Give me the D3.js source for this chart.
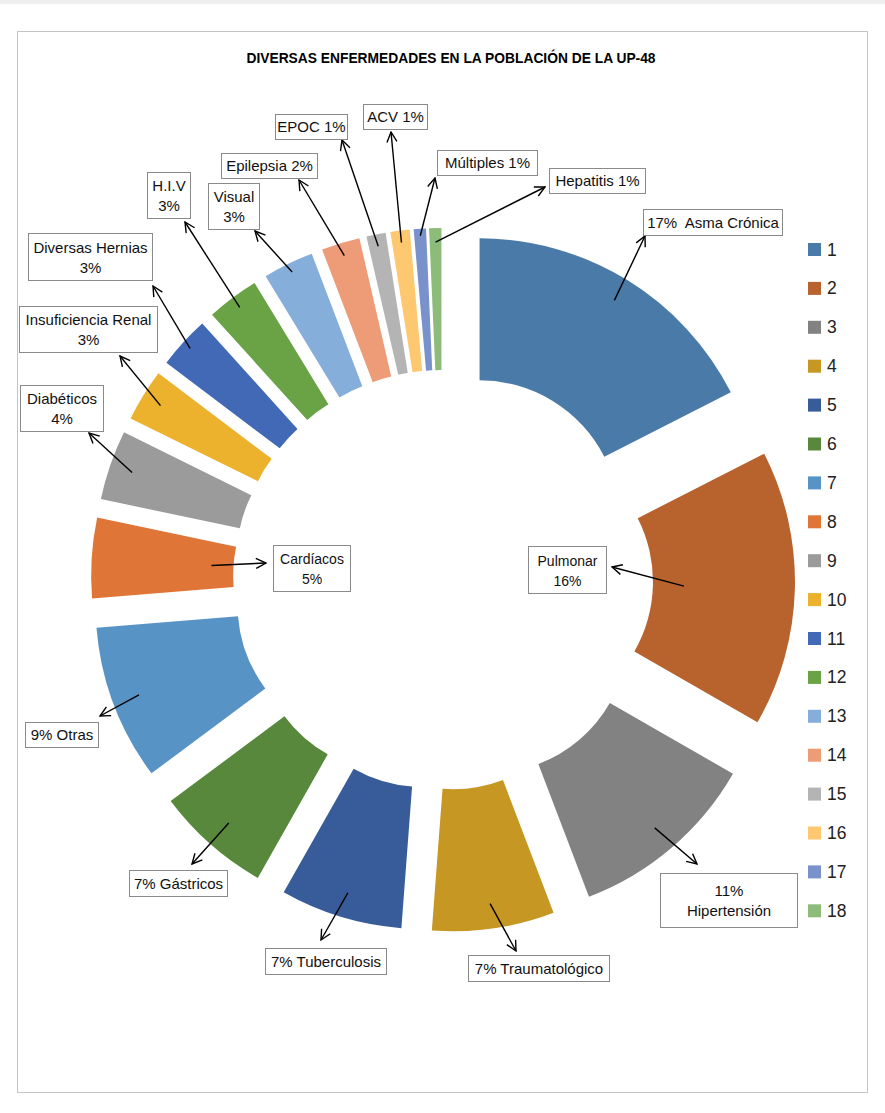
<!DOCTYPE html>
<html>
<head>
  <meta charset="utf-8">
  <style>
  body {
    margin: 0;
    background: #fff;
    font-family: "Liberation Sans", Arial, sans-serif;
  }
  .frame {
    fill: #fff;
    stroke: #c4c4c4;
  }
  .title {
    font-weight: bold;
    font-size: 13.8px;
    text-anchor: middle;
  }
  .lbl rect {
    fill: #fff;
    stroke: #8a8a8a;
  }
  .lbl text {
    font-size: 15px;
    text-anchor: middle;
    fill: #111;
    white-space: pre;
  }
  .lbl line {
    stroke: #000;
    stroke-width: 1.4px;
  }
  .legend text {
    font-size: 17.5px;
    fill: #222;
  }
  </style>
</head>
<body>
  <div id="chart"></div>
  <script src="https://d3js.org/d3.v7.min.js"></script>
  <script>
  // data
  var categories = ["1", "2", "3", "4", "5", "6", "7", "8", "9", "10", "11", "12", "13", "14", "15", "16", "17", "18"];
  var shares = [17.5, 15.8, 10.9, 7.0, 7.0, 6.6, 8.9, 4.6, 4.0, 3.0, 3.0, 3.0, 2.9, 2.2, 1.1, 1.1, 0.7, 0.7];
  var labelLines = [
    ["17%  Asma Crónica"], ["Pulmonar", "16%"], ["11%", "Hipertensión"], ["7% Traumatológico"],
    ["7% Tuberculosis"], ["7% Gástricos"], ["9% Otras"], ["Cardíacos", "5%"], ["Diabéticos", "4%"],
    ["Insuficiencia Renal", "3%"], ["Diversas Hernias", "3%"], ["H.I.V", "3%"], ["Visual", "3%"],
    ["Epilepsia 2%"], ["EPOC 1%"], ["ACV 1%"], ["Múltiples 1%"], ["Hepatitis 1%"]
  ];
  var colors = ["#4a7ba8", "#b8622e", "#828282", "#c79724", "#385c99", "#57883b", "#5893c6", "#df7638", "#9b9b9b",
                "#edb22d", "#4169b5", "#6aa246", "#86aeda", "#ee9b77", "#b4b4b4", "#fec871", "#7992cb", "#8dbb79"];

  // label boxes / arrow tips (layout) : x, y, w, h, tip x, tip y, arrow start radius
  var labelBoxes = [
    [643, 209, 139, 26, 645, 236, 258], [528, 546, 78, 47, 612, 567, 171], [660, 873, 137, 54, 697, 864, 256],
    [468, 955, 141, 26, 516, 951, 257], [265, 948, 121, 26, 321, 940, 257], [129, 870, 98, 26, 192, 864, 254],
    [25, 722, 73, 25, 100, 716, 255], [273, 545, 77, 46, 266, 563, 162], [20, 385, 83, 46, 89, 433, 259],
    [19, 306, 138, 46, 120, 356, 262], [28, 233, 124, 47, 153, 286, 273], [147, 172, 43, 46, 185, 222, 270],
    [208, 183, 51, 46, 255, 231, 273], [221, 153, 96, 25, 299, 180, 269], [275, 114, 72, 25, 342, 140, 270],
    [363, 104, 64, 25, 391, 132, 270], [437, 150, 100, 25, 435, 178, 275], [549, 168, 96, 25, 545, 187, 268]
  ];

  var W = 885, H = 1113;
  var cx = 443, cy = 580, rIn = 140, rOut = 282, explode = 70;

  var svg = d3.select("#chart").append("svg")
      .attr("width", W)
      .attr("height", H);

  svg.append("rect").attr("width", W).attr("height", 4).style("fill", "#f0f0f0");
  svg.append("rect").attr("class", "frame")
      .attr("x", 17.5).attr("y", 31.5).attr("width", 850).attr("height", 1061);

  svg.append("text").attr("class", "title")
      .attr("x", 451).attr("y", 63)
      .text("DIVERSAS ENFERMEDADES EN LA POBLACIÓN DE LA UP-48");

  var defs = svg.append("defs");
  defs.append("marker")
      .attr("id", "head")
      .attr("viewBox", "0 0 12 12")
      .attr("refX", 11).attr("refY", 6)
      .attr("markerWidth", 12).attr("markerHeight", 12)
      .attr("markerUnits", "userSpaceOnUse")
      .attr("orient", "auto")
    .append("path")
      .attr("d", "M1,1 L11,6 L1,11")
      .style("fill", "none")
      .style("stroke", "#000")
      .style("stroke-width", 1.4);

  var pie = d3.pie().sort(null).value(function(d){ return d; });
  var arcs = pie(shares);
  var arc = d3.arc().innerRadius(rIn).outerRadius(rOut);

  function mid(d){ return (d.startAngle + d.endAngle) / 2; }
  function offset(d){
    var m = mid(d);
    return [cx + explode * Math.sin(m), cy - explode * Math.cos(m)];
  }

  svg.append("g").selectAll("path")
      .data(arcs)
    .enter().append("path")
      .attr("transform", function(d){ var o = offset(d); return "translate(" + o[0] + "," + o[1] + ")"; })
      .attr("d", arc)
      .style("fill", function(d, i){ return colors[i]; });

  // labels with arrows
  var lbl = svg.append("g").selectAll("g")
      .data(arcs)
    .enter().append("g")
      .attr("class", "lbl");

  lbl.append("line")
      .attr("x1", function(d, i){ return offset(d)[0] + labelBoxes[i][6] * Math.sin(mid(d)); })
      .attr("y1", function(d, i){ return offset(d)[1] - labelBoxes[i][6] * Math.cos(mid(d)); })
      .attr("x2", function(d, i){ return labelBoxes[i][4]; })
      .attr("y2", function(d, i){ return labelBoxes[i][5]; })
      .attr("marker-end", "url(#head)");

  lbl.append("rect")
      .attr("x", function(d, i){ return labelBoxes[i][0] + 0.5; })
      .attr("y", function(d, i){ return labelBoxes[i][1] + 0.5; })
      .attr("width", function(d, i){ return labelBoxes[i][2]; })
      .attr("height", function(d, i){ return labelBoxes[i][3]; });

  lbl.each(function(d, i){
    var b = labelBoxes[i], lines = labelLines[i];
    var small = (i == 1 || i == 7);
    var g = d3.select(this);
    lines.forEach(function(t, k){
      var y = lines.length == 1 ? b[1] + b[3] / 2 + 5.5 : b[1] + b[3] / 2 + (k == 0 ? -4 : 16);
      g.append("text")
          .attr("x", b[0] + b[2] / 2 + 0.5)
          .attr("y", y)
          .style("font-size", small ? "14px" : null)
          .text(t);
    });
  });

  // legend
  var legend = svg.append("g").attr("class", "legend")
      .attr("transform", "translate(808, 249)");

  var row = legend.selectAll("g")
      .data(categories)
    .enter().append("g")
      .attr("transform", function(d, i){ return "translate(0," + (i * 38.9) + ")"; });

  row.append("rect")
      .attr("y", -6).attr("width", 13).attr("height", 13)
      .style("fill", function(d, i){ return colors[i]; });

  row.append("text")
      .attr("x", 19).attr("y", 6.5)
      .text(function(d){ return d; });
  </script>
</body>
</html>
